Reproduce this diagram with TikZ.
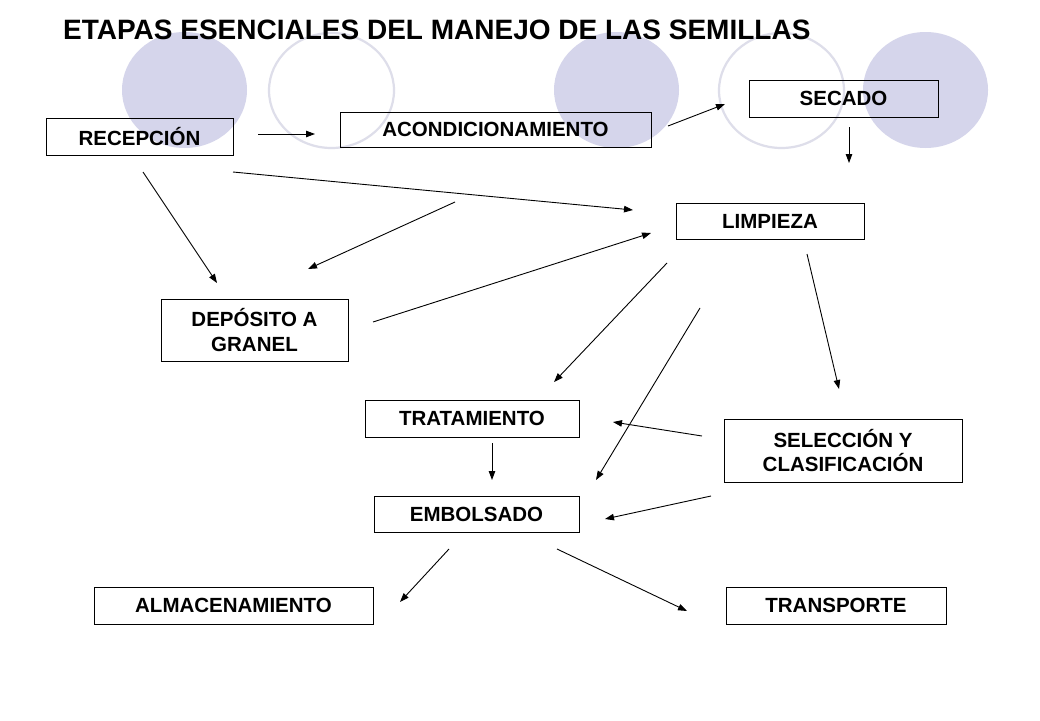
\documentclass[tikz,border=0pt]{standalone}
\usepackage{fontspec}
\setmainfont{Liberation Sans}
\usetikzlibrary{arrows.meta}
\definecolor{circfill}{RGB}{213,213,235}
\definecolor{circline}{RGB}{222,222,234}
\tikzset{
  box/.style={draw=black, line width=0.9pt, inner sep=0pt, align=center,
    font=\fontsize{20.5}{24.5}\selectfont\bfseries},
  conn/.style={line width=0.9pt, -{Triangle[length=9pt,width=6.5pt]}},
  deco/.style={fill=circfill, draw=none},
  ring/.style={draw=circline, line width=2.2pt}
}
\begin{document}
\begin{tikzpicture}[x=1pt,y=-1pt]
\path[fill=white, use as bounding box] (0,0) rectangle (1040,720);
% background circles
\fill[deco] (184.5,90) ellipse [x radius=62.5, y radius=58];
\draw[ring] (331.5,90.5) ellipse [x radius=62.5, y radius=57.5];
\fill[deco] (616.5,90) ellipse [x radius=62.5, y radius=58];
\draw[ring] (781.5,90.5) ellipse [x radius=62.5, y radius=57.5];
\fill[deco] (925.5,90) ellipse [x radius=62.5, y radius=58];
% title
\node[anchor=base west, inner sep=0pt, font=\fontsize{28}{32}\selectfont\bfseries] (title) at (63,39) {ETAPAS ESENCIALES DEL MANEJO DE LAS SEMILLAS};
% boxes
\node[box, minimum width=187pt, minimum height=37pt] (rec) at (139.5,136.5) {RECEPCIÓN};
\node[box, minimum width=311pt, minimum height=35pt] (acon) at (495.5,129.5) {ACONDICIONAMIENTO};
\node[box, minimum width=189pt, minimum height=37pt] (sec) at (843.5,98.5) {SECADO};
\node[box, minimum width=188pt, minimum height=36pt] (lim) at (770,221) {LIMPIEZA};
\node[box, minimum width=187pt, minimum height=62pt] (dep) at (254.5,330) {DEPÓSITO A\\GRANEL};
\node[box, minimum width=214pt, minimum height=37pt] (trat) at (472,418.5) {TRATAMIENTO};
\node[box, minimum width=238pt, minimum height=63pt] (sel) at (843,450.5) {SELECCIÓN Y\\CLASIFICACIÓN};
\node[box, minimum width=205pt, minimum height=36pt] (emb) at (476.5,514) {EMBOLSADO};
\node[box, minimum width=279pt, minimum height=37pt] (alm) at (233.5,605.5) {ALMACENAMIENTO};
\node[box, minimum width=220pt, minimum height=37pt] (tra) at (836,605.5) {TRANSPORTE};
% connector end points
\coordinate (a1s) at (258,134);  \coordinate (a1e) at (315,134);
\coordinate (a2s) at (668,126);  \coordinate (a2e) at (725,104);
\coordinate (a3s) at (849,127);  \coordinate (a3e) at (849,163);
\coordinate (a4s) at (233,172);  \coordinate (a4e) at (633,210);
\coordinate (a5s) at (143,172);  \coordinate (a5e) at (217,283);
\coordinate (a6s) at (455,202);  \coordinate (a6e) at (308,269);
\coordinate (a7s) at (373,322);  \coordinate (a7e) at (651,233);
\coordinate (a8s) at (667,263);  \coordinate (a8e) at (554,382);
\coordinate (a9s) at (700,308);  \coordinate (a9e) at (596,480);
\coordinate (a10s) at (807,254); \coordinate (a10e) at (839,389);
\coordinate (a11s) at (702,436); \coordinate (a11e) at (613,422);
\coordinate (a12s) at (711,496); \coordinate (a12e) at (605,519);
\coordinate (a13s) at (492,443); \coordinate (a13e) at (492,480);
\coordinate (a14s) at (449,549); \coordinate (a14e) at (400,602);
\coordinate (a15s) at (557,549); \coordinate (a15e) at (687,611);
% connectors
\foreach \i in {1,...,15} {\draw[conn] (a\i s) -- (a\i e);}
\end{tikzpicture}
\end{document}
